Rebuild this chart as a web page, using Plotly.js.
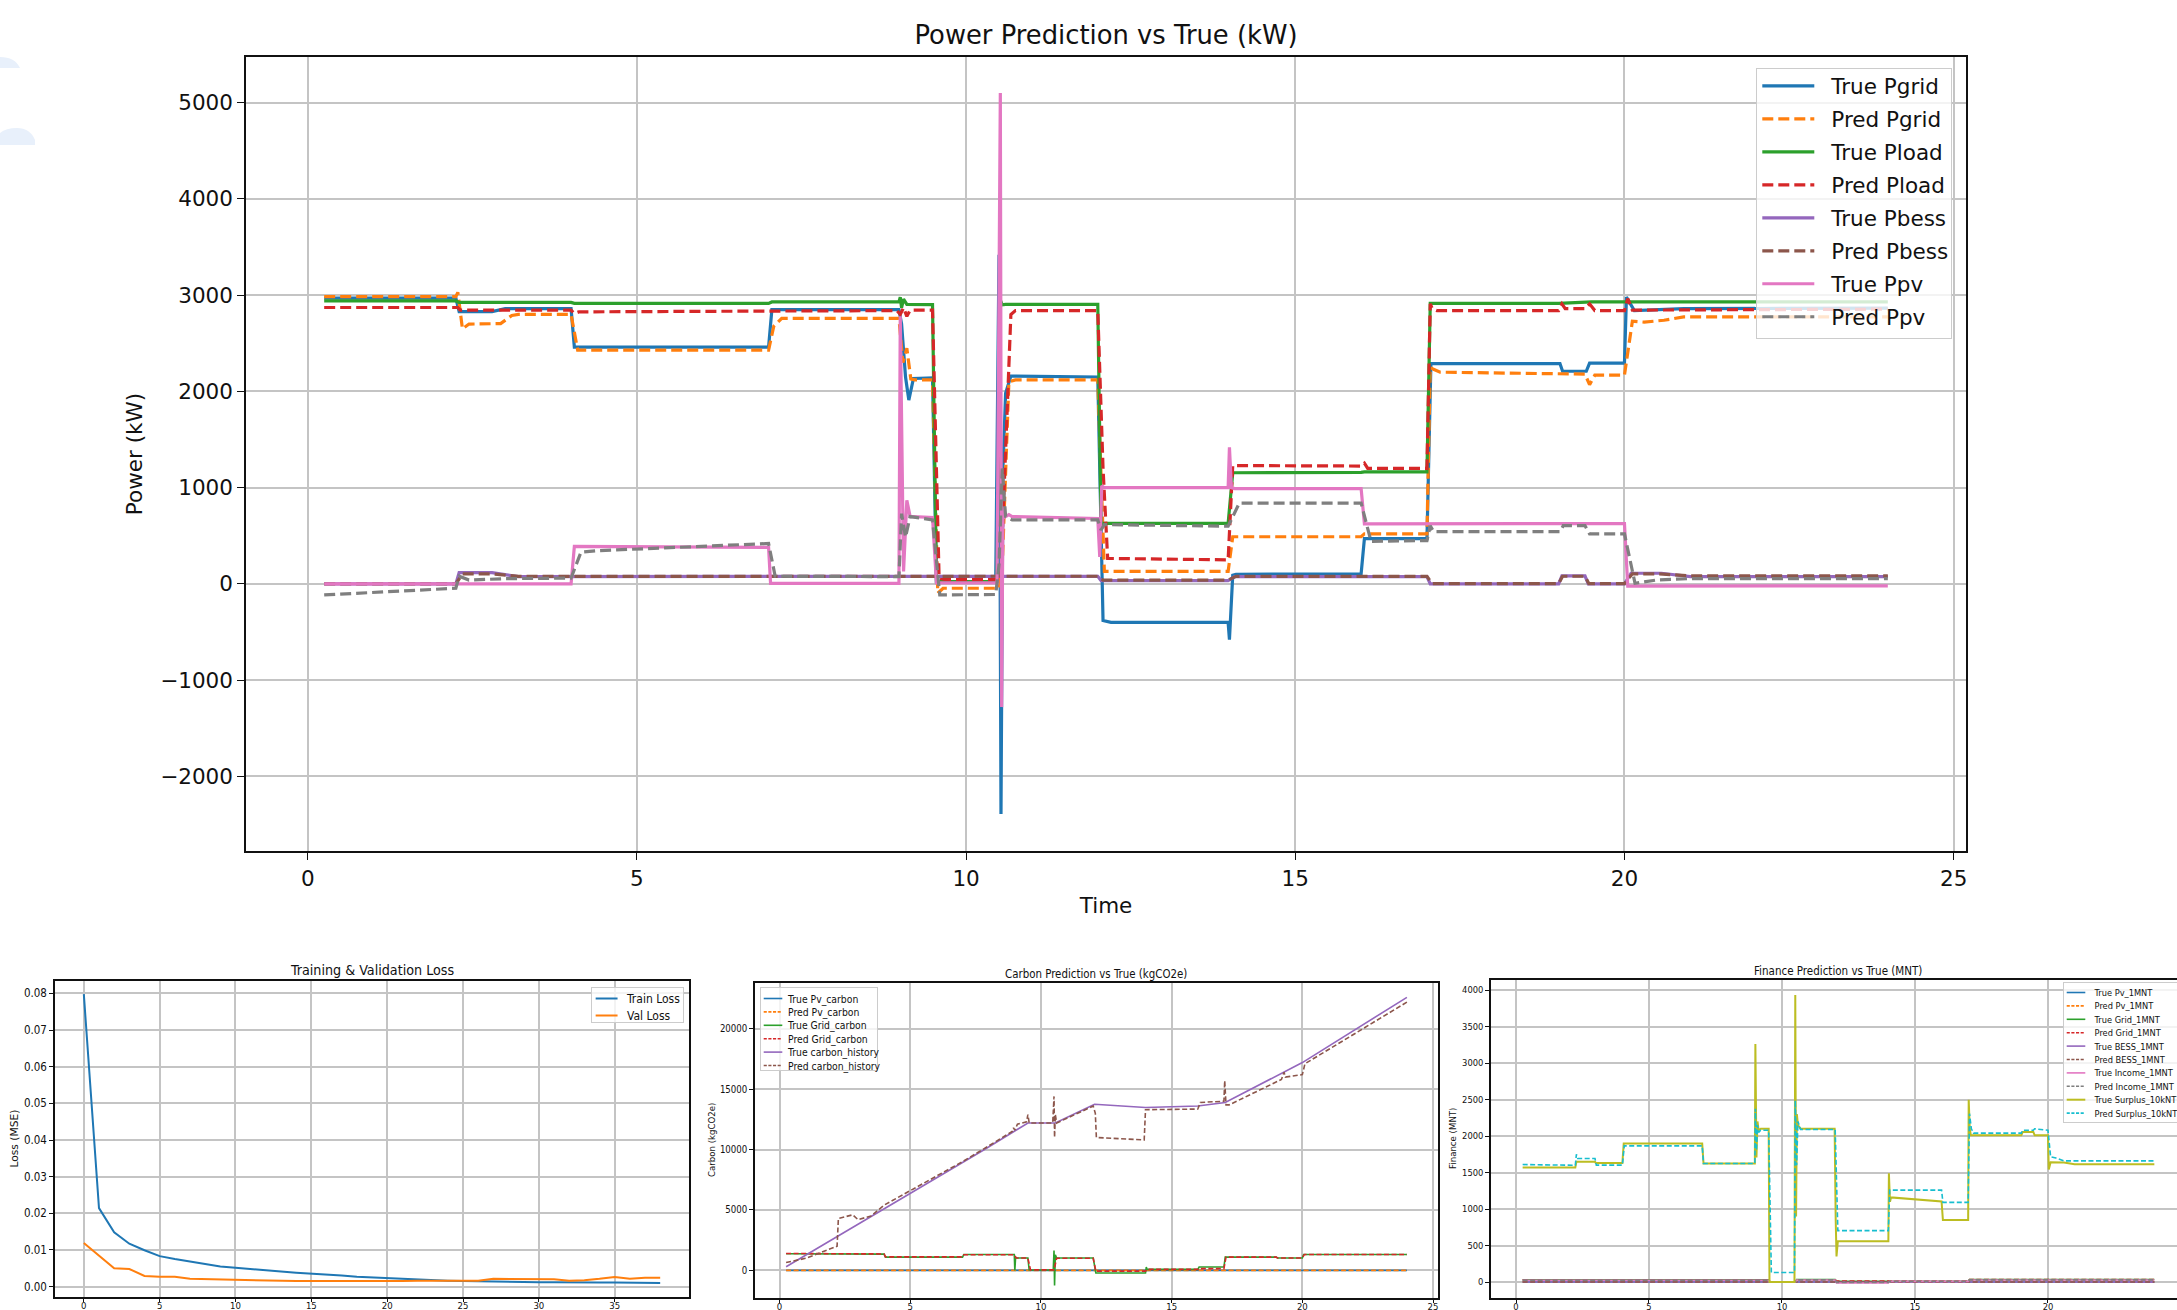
<!DOCTYPE html>
<html><head><meta charset="utf-8">
<script src="https://cdn.plot.ly/plotly-3.0.1.min.js"></script>
<style>html,body{margin:0;padding:0;overflow:hidden;background:#fff;}#chart{width:2200px;height:1340px;}</style>
</head><body><div id="chart"></div><script>
// ================= DATA =================
// --- Power Prediction vs True (kW) ---
const t_true_pgrid = [0.25,2.25,2.3,2.8,3.0,4.0,4.05,7.0,7.05,8.98,9.02,9.08,9.13,9.2,9.49,9.55,10.45,10.5,10.53,10.56,10.6,10.68,12.0,12.08,12.2,13.98,14.0,14.05,14.1,16.0,16.05,17.0,17.06,19.02,19.06,19.42,19.47,20.0,20.03,20.15,20.9,24.0];
const v_true_pgrid = [2970,2970,2830,2830,2860,2860,2460,2460,2850,2850,2700,2150,1910,2135,2140,20,20,3420,-2390,1200,1980,2160,2150,-380,-400,-400,-580,90,100,105,470,470,2290,2290,2210,2210,2295,2295,2980,2840,2860,2865];
const t_pred_pgrid = [0.25,2.25,2.28,2.35,2.45,2.93,3.1,3.2,4.0,4.1,7.0,7.08,7.2,8.98,9.04,9.1,9.16,9.22,9.49,9.57,9.65,10.5,10.55,10.65,10.75,12.0,12.1,13.98,14.05,16.0,16.05,17.0,17.05,17.1,17.2,19.0,19.4,19.47,19.55,20.0,20.12,20.3,20.6,20.9,24.0];
const v_pred_pgrid = [2985,2985,3030,2650,2700,2705,2790,2800,2800,2430,2430,2680,2760,2760,2300,2450,2130,2120,2120,-97,-45,-45,200,2100,2120,2120,130,130,490,490,520,520,2250,2230,2200,2185,2180,2070,2170,2170,2730,2720,2740,2775,2775];
const t_true_pload = [0.25,2.25,2.3,4.0,4.05,7.0,7.05,8.98,9.0,9.02,9.05,9.1,9.49,9.52,9.55,10.47,10.52,10.55,10.6,12.0,12.05,13.98,14.05,16.0,16.05,17.0,17.05,19.0,19.5,24.0];
const v_true_pload = [2940,2940,2925,2925,2915,2915,2930,2930,2980,2870,2960,2905,2903,1300,25,25,2950,2900,2905,2905,630,630,1155,1160,1165,1165,2915,2915,2930,2930];
const t_pred_pload = [0.25,2.28,2.32,4.0,4.05,4.12,7.0,8.95,9.0,9.05,9.1,9.15,9.49,9.59,9.7,10.5,10.55,10.68,10.75,12.0,12.08,12.15,13.98,14.05,16.0,16.05,16.1,17.0,17.05,17.08,17.15,19.0,19.05,19.1,19.4,19.47,19.55,20.0,20.05,20.12,24.0];
const v_pred_pload = [2872,2872,2845,2845,2810,2827,2835,2840,2800,2870,2780,2845,2845,60,45,45,500,2800,2840,2840,1200,265,250,1230,1225,1255,1200,1200,2910,2860,2840,2840,2910,2860,2860,2910,2840,2840,2965,2845,2855];
const t_true_pbess = [0.25,2.25,2.3,2.8,3.2,12.0,12.05,13.98,14.08,17.0,17.05,19.0,19.05,19.4,19.45,20.0,20.1,20.56,21.0,24.0];
const v_true_pbess = [0,0,118,118,76,80,35,35,76,76,0,0,83,83,0,0,111,111,76,76];
const t_pred_pbess = [0.25,2.25,2.35,2.8,3.2,12.0,12.08,13.98,14.1,17.0,17.08,19.0,19.06,19.4,19.46,20.0,20.12,20.5,21.0,24.0];
const v_pred_pbess = [0,0,105,105,78,80,40,40,78,78,3,3,80,80,3,3,105,105,83,83];
const t_true_ppv = [0.25,4.0,4.05,7.0,7.03,8.98,9.0,9.05,9.1,9.15,9.2,9.49,9.55,10.47,10.52,10.54,10.56,10.6,10.65,10.7,12.0,12.03,12.06,12.1,13.98,14.0,14.03,14.08,16.0,16.05,20.0,20.05,24.0];
const v_true_ppv = [0,0,390,380,5,5,2780,130,870,700,700,690,10,10,5100,-1280,800,700,720,700,680,280,1020,1000,1000,1420,1000,990,990,625,628,-22,-20];
const t_pred_ppv = [0.25,2.25,2.3,2.45,3.0,4.0,4.15,4.4,7.0,7.1,8.98,9.02,9.08,9.15,9.49,9.6,10.45,10.5,10.55,10.6,10.7,12.0,12.05,12.1,13.98,14.15,16.0,16.15,17.0,17.05,17.1,19.02,19.07,19.4,19.47,20.0,20.16,20.5,21.0,24.0];
const v_pred_ppv = [-114,-45,80,40,55,60,330,345,420,80,76,730,485,700,665,-114,-110,200,1200,700,665,665,560,616,600,840,840,443,450,605,543,543,605,605,520,520,7,42,55,55];

// --- Training & Validation Loss ---
const epochs = [0,1,2,3,4,5,6,7,8,9,10,11,12,13,14,15,16,17,18,19,20,21,22,23,24,25,26,27,28,29,30,31,32,33,34,35,36,37,38];
const train_loss = [0.0798,0.0214,0.0148,0.0117,0.0099,0.0083,0.0075,0.0068,0.0060,0.0055,0.0051,0.0047,0.0044,0.0041,0.0038,0.0036,0.0033,0.0030,0.0027,0.0025,0.0023,0.0020,0.0019,0.0017,0.0016,0.0015,0.0014,0.0013,0.0013,0.0012,0.0012,0.0012,0.0011,0.0011,0.0011,0.0011,0.0010,0.0010,0.0010];
const val_loss = [0.0119,0.0085,0.0050,0.0048,0.0029,0.0027,0.0027,0.0021,0.0020,0.0020,0.0017,0.0016,0.0016,0.0015,0.0015,0.0015,0.0015,0.0014,0.0013,0.0014,0.0013,0.0015,0.0016,0.0016,0.0014,0.0014,0.0016,0.0021,0.0021,0.0020,0.0019,0.0020,0.0016,0.0017,0.0021,0.0026,0.0021,0.0024,0.0024];

// --- Carbon Prediction vs True (kgCO2e) ---
const t_pv_carbon = [0.25,4.0,4.05,7.0,7.05,9.0,9.05,9.5,10.55,12.0,12.05,16.0,16.05,20.0,20.05,24.0];
const v_true_pv_carbon = [0,0,10,10,0,0,18,0,18,18,25,25,16,16,0,0];
const v_pred_pv_carbon = [5,5,12,12,4,4,16,3,16,16,22,22,15,15,3,3];
const t_true_grid_carbon = [0.25,2.0,2.05,4.0,4.05,7.0,7.05,8.98,9.0,9.03,9.06,9.5,9.55,10.47,10.5,10.52,10.55,10.6,12.0,12.1,14.0,14.03,14.06,16.0,16.05,17.0,17.05,19.0,19.05,20.0,20.05,24.0];
const v_true_grid_carbon = [1380,1380,1350,1350,1100,1100,1320,1320,0,1100,1020,1020,30,30,1650,-1240,1300,1020,1020,-220,-220,275,80,80,275,275,1100,1100,1020,1020,1320,1320];
const t_pred_grid_carbon = [0.25,2.0,2.05,4.0,4.05,7.0,7.05,8.98,9.05,9.5,9.6,10.5,10.6,12.0,12.1,14.0,14.05,16.0,16.05,17.0,17.08,19.0,19.05,20.0,20.08,24.0];
const v_pred_grid_carbon = [1400,1400,1360,1360,1120,1120,1290,1290,1020,1020,40,40,1000,1000,-60,-60,80,80,150,150,1100,1100,1030,1030,1320,1320];
const t_true_carbon_hist = [0.25,3.93,7.84,9.5,10.55,12.05,14.0,16.0,17.05,20.0,24.0];
const v_true_carbon_hist = [300,5000,10000,12200,12200,13750,13480,13600,13900,17200,22600];
const t_pred_carbon_hist = [0.25,1.0,2.2,2.25,2.8,3.0,3.5,4.0,5.0,7.0,8.0,8.9,8.95,9.0,9.1,9.45,9.5,9.55,10.45,10.5,10.52,10.55,10.6,12.0,12.08,12.12,13.95,14.0,16.0,16.1,17.0,17.03,17.08,17.2,19.2,19.3,19.35,20.0,20.1,24.0];
const v_pred_carbon_hist = [650,1000,2000,4300,4600,4200,4500,5400,6600,9000,10300,11500,11800,11600,12100,12300,12900,12200,12200,14400,11000,12900,12200,13600,13000,11000,10800,13300,13350,13900,14000,15700,13700,13700,15800,16400,16000,16200,17100,22200];

// --- Finance Prediction vs True (MNT) ---
const t_fin_small = [0.25,9.5,9.55,10.5,10.55,12.0,12.05,14.0,14.05,17.0,17.05,24.0];
const v_true_pv_mnt = [2,2,0,0,6,6,8,8,6,6,2,2];
const v_pred_pv_mnt = [5,5,2,2,9,9,11,11,9,9,5,5];
const v_true_grid_mnt = [30,30,0,0,35,35,12,12,12,12,35,35];
const v_pred_grid_mnt = [32,32,2,2,33,33,14,14,14,14,34,34];
const v_true_bess_mnt = [1,1,1,1,1,1,0,0,1,1,0,0];
const v_pred_bess_mnt = [2,2,2,2,2,2,1,1,2,2,1,1];
const v_true_income_mnt = [25,25,0,0,28,28,-12,-12,10,10,28,28];
const v_pred_income_mnt = [27,27,3,3,30,30,-5,-5,12,12,30,30];
const t_true_surplus = [0.25,2.23,2.27,2.97,3.0,4.0,4.05,7.0,7.05,8.98,9.0,9.04,9.08,9.12,9.2,9.5,9.53,10.47,10.5,10.53,10.56,10.6,10.7,11.98,12.02,12.05,12.1,14.0,14.02,14.06,14.1,16.0,16.05,17.0,17.02,17.06,17.1,19.0,19.05,19.45,19.5,20.0,20.03,20.1,20.6,21.0,24.0];
const v_true_surplus = [1570,1570,1647,1647,1630,1630,1897,1897,1624,1624,3262,1706,2200,2080,2100,2100,0,0,3931,900,2300,2150,2100,2100,850,350,560,560,1490,1100,1160,1105,851,851,2498,2100,2011,2011,2057,2057,2011,2011,1542,1640,1638,1615,1615];
const t_pred_surplus = [0.25,2.23,2.27,2.32,2.97,3.02,4.0,4.07,7.0,7.05,8.98,9.0,9.04,9.08,9.12,9.2,9.5,9.6,10.47,10.5,10.55,10.6,10.7,12.0,12.1,14.0,14.05,16.0,16.05,17.0,17.05,17.12,17.2,19.0,19.05,19.45,19.5,20.0,20.1,20.3,20.6,24.0];
const v_pred_surplus = [1610,1600,1750,1693,1693,1602,1602,1866,1866,1624,1624,2375,1800,2150,2050,2080,2080,132,132,2490,1600,2200,2090,2090,705,705,1260,1260,1092,1092,2307,2100,2040,2040,2080,2080,2100,2080,1715,1700,1661,1660];
const fin_x_ticks = [0,5,10,15,20];

// ================= STYLE / LAYOUT =================
const W = 2200, H = 1340;
const C = ['#1f77b4','#ff7f0e','#2ca02c','#d62728','#9467bd','#8c564b','#e377c2','#7f7f7f','#bcbd22','#17becf'];
const FONT = '"DejaVu Sans", sans-serif';
function tw(f, s){ const c = document.createElement('canvas').getContext('2d'); c.font = f; return c.measureText(s).width; }
const hasCond = Math.abs(tw('20px "DejaVu Sans Condensed", monospace','Training Loss 0123') - tw('20px monospace','Training Loss 0123')) > 0.5;
const COND = hasCond ? '"DejaVu Sans Condensed", "DejaVu Sans", sans-serif' : FONT;
const CS = hasCond ? 1 : 0.9;
const X = px => px / W, Y = py => 1 - py / H;

const MAIN_DASH = '11px,5px', SMALL_DASH = '5px,2.5px';
function tr(x, y, name, color, dash, width, n, leg){
  return {type:'scatter', mode:'lines', x:x, y:y, name:name, xaxis:'x'+(n>1?n:''), yaxis:'y'+(n>1?n:''),
    legend: leg, line:{color:color, width:width, dash:dash||'solid'}, hoverinfo:'skip'};
}
const LM = 3.2;
const traces = [
  tr(t_true_pgrid, v_true_pgrid, 'True Pgrid', C[0], 'solid', LM, 1, 'legend'),
  tr(t_pred_pgrid, v_pred_pgrid, 'Pred Pgrid', C[1], MAIN_DASH, LM, 1, 'legend'),
  tr(t_true_pload, v_true_pload, 'True Pload', C[2], 'solid', LM, 1, 'legend'),
  tr(t_pred_pload, v_pred_pload, 'Pred Pload', C[3], MAIN_DASH, LM, 1, 'legend'),
  tr(t_true_pbess, v_true_pbess, 'True Pbess', C[4], 'solid', LM, 1, 'legend'),
  tr(t_pred_pbess, v_pred_pbess, 'Pred Pbess', C[5], MAIN_DASH, LM, 1, 'legend'),
  tr(t_true_ppv, v_true_ppv, 'True Ppv', C[6], 'solid', LM, 1, 'legend'),
  tr(t_pred_ppv, v_pred_ppv, 'Pred Ppv', C[7], MAIN_DASH, LM, 1, 'legend'),

  tr(epochs, train_loss, 'Train Loss', C[0], 'solid', 2, 2, 'legend2'),
  tr(epochs, val_loss, 'Val Loss', C[1], 'solid', 2, 2, 'legend2'),

  tr(t_pv_carbon, v_true_pv_carbon, 'True Pv_carbon', C[0], 'solid', 1.6, 3, 'legend3'),
  tr(t_pv_carbon, v_pred_pv_carbon, 'Pred Pv_carbon', C[1], SMALL_DASH, 1.6, 3, 'legend3'),
  tr(t_true_grid_carbon, v_true_grid_carbon, 'True Grid_carbon', C[2], 'solid', 1.6, 3, 'legend3'),
  tr(t_pred_grid_carbon, v_pred_grid_carbon, 'Pred Grid_carbon', C[3], SMALL_DASH, 1.6, 3, 'legend3'),
  tr(t_true_carbon_hist, v_true_carbon_hist, 'True carbon_history', C[4], 'solid', 1.6, 3, 'legend3'),
  tr(t_pred_carbon_hist, v_pred_carbon_hist, 'Pred carbon_history', C[5], SMALL_DASH, 1.6, 3, 'legend3'),

  tr(t_fin_small, v_true_pv_mnt, 'True Pv_1MNT', C[0], 'solid', 1.6, 4, 'legend4'),
  tr(t_fin_small, v_pred_pv_mnt, 'Pred Pv_1MNT', C[1], SMALL_DASH, 1.6, 4, 'legend4'),
  tr(t_fin_small, v_true_grid_mnt, 'True Grid_1MNT', C[2], 'solid', 1.6, 4, 'legend4'),
  tr(t_fin_small, v_pred_grid_mnt, 'Pred Grid_1MNT', C[3], SMALL_DASH, 1.6, 4, 'legend4'),
  tr(t_fin_small, v_true_bess_mnt, 'True BESS_1MNT', C[4], 'solid', 1.6, 4, 'legend4'),
  tr(t_fin_small, v_pred_bess_mnt, 'Pred BESS_1MNT', C[5], SMALL_DASH, 1.6, 4, 'legend4'),
  tr(t_fin_small, v_true_income_mnt, 'True Income_1MNT', C[6], 'solid', 1.6, 4, 'legend4'),
  tr(t_fin_small, v_pred_income_mnt, 'Pred Income_1MNT', C[7], SMALL_DASH, 1.6, 4, 'legend4'),
  tr(t_true_surplus, v_true_surplus, 'True Surplus_10kNT', C[8], 'solid', 2, 4, 'legend4'),
  tr(t_pred_surplus, v_pred_surplus, 'Pred Surplus_10kNT', C[9], SMALL_DASH, 1.6, 4, 'legend4')
];

function axis(d0, d1, range, dtick, fsize, ffam, anchor, extra){
  return Object.assign({domain:[d0,d1], range:range, dtick:dtick, tick0:0, anchor:anchor, autorange:false,
    showgrid:true, gridcolor:'#c4c4c4', gridwidth:1.6, zeroline:false,
    showline:true, linecolor:'#111', linewidth:1.5, mirror:true,
    ticks:'outside', ticklen:6, tickwidth:1.4, tickcolor:'#111',
    tickfont:{family:ffam, size:fsize, color:'#111'}, exponentformat:'none', separatethousands:false, automargin:false}, extra||{});
}
const mainL = 246, mainR = 1966, mainT = 57, mainB = 851;
const lossL = 55, lossR = 689, lossT = 981, lossB = 1297;
const carL = 755, carR = 1438, carT = 983, carB = 1298;
const finL = 1491, finR = 2186, finT = 980, finB = 1298;
// bottom-row x tick labels sit tight under the axis so they stay inside the picture
const BX = {ticklen:3, ticklabelstandoff:-4};

const layout = {
  width: W, height: H, margin:{l:0,r:0,t:0,b:0, autoexpand:false}, paper_bgcolor:'#fff', plot_bgcolor:'#fff', showlegend:true,
  font:{family:FONT, color:'#111'},
  title:{text:'Power Prediction vs True (kW)', font:{family:FONT, size:25.8, color:'#111'}, x:X(1106), xanchor:'center', y:Y(35), yanchor:'middle', xref:'paper', yref:'paper'},
  xaxis: axis(X(mainL), X(mainR), [-0.9375, 25.1875], 5, 21.5, FONT, 'y', {ticklen:7, title:{text:'Time', font:{family:FONT, size:21.5}, standoff:8}}),
  yaxis: axis(Y(mainB), Y(mainT), [-2775, 5475], 1000, 21.5, FONT, 'x', {ticklen:7, tickformat:'d', title:{text:'Power (kW)', font:{family:FONT, size:21.5}, standoff:12}}),
  xaxis2: axis(X(lossL), X(lossR), [-1.9, 39.9], 5, 9.5*CS, COND, 'y2', BX),
  yaxis2: axis(Y(lossB), Y(lossT), [-0.00285, 0.0834], 0.01, 11.5*CS, COND, 'x2', {ticklen:4, tickformat:'.2f'}),
  xaxis3: axis(X(carL), X(carR), [-0.94, 25.19], 5, 9.5*CS, COND, 'y3', BX),
  yaxis3: axis(Y(carB), Y(carT), [-2285, 23785], 5000, 9.6*CS, COND, 'x3', {ticklen:4, tickformat:'d'}),
  xaxis4: axis(X(finL), X(finR), [-0.94, 25.19], 5, 9.3*CS, COND, 'y4', Object.assign({tickmode:'array', tickvals:fin_x_ticks}, BX)),
  yaxis4: axis(Y(finB), Y(finT), [-218, 4138], 500, 9.3*CS, COND, 'x4', {ticklen:4, tickformat:'d'}),
  legend:{x:X(1756), y:Y(68), xanchor:'left', yanchor:'top', bgcolor:'rgba(255,255,255,0.8)', bordercolor:'#cccccc', borderwidth:1.3,
    font:{family:FONT, size:21.5, color:'#111'}, itemwidth:52, traceorder:'normal'},
  legend2:{x:X(591), y:Y(987), xanchor:'left', yanchor:'top', bgcolor:'rgba(255,255,255,0.8)', bordercolor:'#cccccc', borderwidth:1,
    font:{family:COND, size:12*CS, color:'#111'}, itemwidth:30, traceorder:'normal'},
  legend3:{x:X(759.6), y:Y(987), xanchor:'left', yanchor:'top', bgcolor:'rgba(255,255,255,0.8)', bordercolor:'#cccccc', borderwidth:1,
    font:{family:COND, size:10.3*CS, color:'#111'}, itemwidth:30, traceorder:'normal'},
  legend4:{x:X(2062.6), y:Y(982), xanchor:'left', yanchor:'top', bgcolor:'rgba(255,255,255,0.8)', bordercolor:'#cccccc', borderwidth:1,
    font:{family:COND, size:9.2*CS, color:'#111'}, itemwidth:30, traceorder:'normal'},
  annotations:[
    {text:'Training & Validation Loss', x:X(372), y:Y(970), xref:'paper', yref:'paper', showarrow:false, xanchor:'center', yanchor:'middle', font:{family:COND, size:14.2*CS, color:'#111'}},
    {text:'Carbon Prediction vs True (kgCO2e)', x:X(1096), y:Y(974), xref:'paper', yref:'paper', showarrow:false, xanchor:'center', yanchor:'middle', font:{family:COND, size:11.4*CS, color:'#111'}},
    {text:'Finance Prediction vs True (MNT)', x:X(1838), y:Y(971), xref:'paper', yref:'paper', showarrow:false, xanchor:'center', yanchor:'middle', font:{family:COND, size:11.5*CS, color:'#111'}},
    {text:'Loss (MSE)', x:X(13.5), y:Y(1139), xref:'paper', yref:'paper', showarrow:false, textangle:-90, xanchor:'center', yanchor:'middle', font:{family:FONT, size:10.7, color:'#111'}},
    {text:'Carbon (kgCO2e)', x:X(712), y:Y(1140), xref:'paper', yref:'paper', showarrow:false, textangle:-90, xanchor:'center', yanchor:'middle', font:{family:FONT, size:8.6, color:'#111'}},
    {text:'Finance (MNT)', x:X(1453), y:Y(1139), xref:'paper', yref:'paper', showarrow:false, textangle:-90, xanchor:'center', yanchor:'middle', font:{family:FONT, size:8.6, color:'#111'}}
  ],
  shapes:[
    {type:'path', xref:'paper', yref:'paper', layer:'below', line:{width:0}, fillcolor:'#e8f0fb',
      path:'M'+X(0)+','+Y(68)+' L'+X(0)+','+Y(57)+' Q'+X(15)+','+Y(57)+' '+X(20)+','+Y(68)+' Z'},
    {type:'path', xref:'paper', yref:'paper', layer:'below', line:{width:0}, fillcolor:'#e8f0fb',
      path:'M'+X(0)+','+Y(145)+' L'+X(0)+','+Y(133)+' Q'+X(6)+','+Y(128)+' '+X(17)+','+Y(128)+' Q'+X(30)+','+Y(128)+' '+X(35)+','+Y(140)+' L'+X(35)+','+Y(145)+' Z'}
  ]
};

// Legend row spacing / box sizes / symbol lengths (matching the reference's compact legends).
// Idempotent: original positions are remembered, so it can safely run more than once.
const LEG_SPEC = {
  legend:  {sp:33,   shift:-4, h:270, dx:12,    w:195, sym:1},
  legend2: {sp:17,   shift:-4, h:35,  dx:-5,    w:92,  sym:0.73},
  legend3: {sp:13.4, shift:-4, h:83,  dx:-12.5, w:117, sym:0.62},
  legend4: {sp:13.4, shift:-5, h:140, dx:-9,    w:150, sym:0.62}
};
function tighten(gd){
  gd.querySelectorAll('g.legend, g.legend2, g.legend3, g.legend4').forEach(function(g){
    const cls = (g.getAttribute('class')||'').split(/\s+/);
    const key = ['legend4','legend3','legend2','legend'].find(k => cls.indexOf(k) >= 0);
    if(!key) return;
    const s = LEG_SPEC[key];
    const items = Array.from(g.querySelectorAll('g.traces'));
    if(items.length < 1) return;
    const parse = el => { const m = /translate\(\s*([-\d.e]+)[ ,]+([-\d.e]+)\s*\)/.exec(el.getAttribute('transform')||''); return m ? [parseFloat(m[1]), parseFloat(m[2])] : [0,0]; };
    items.forEach(function(el){
      if(el.dataset.ox === undefined){ const p = parse(el); el.dataset.ox = p[0]; el.dataset.oy = p[1]; }
    });
    const y0 = parseFloat(items[0].dataset.oy);
    items.forEach(function(el, i){
      const ox = parseFloat(el.dataset.ox);
      el.setAttribute('transform', 'translate(' + (ox + s.dx) + ',' + (y0 + s.shift + i*s.sp) + ')');
      el.querySelectorAll('g.layers').forEach(function(l){
        if(l.dataset.ot === undefined) l.dataset.ot = l.getAttribute('transform') || '';
        l.setAttribute('transform', l.dataset.ot + ' translate(' + (-s.dx) + ',0) scale(' + s.sym + ',1)');
      });
    });
    const bg = g.querySelector('rect.bg');
    if(bg){ bg.setAttribute('height', s.h); bg.setAttribute('width', s.w); }
    g.querySelectorAll('[clip-path]').forEach(e => e.removeAttribute('clip-path'));
  });
}

Plotly.newPlot('chart', traces, layout, {displayModeBar:false, responsive:false}).then(function(gd){
  try { tighten(gd); } catch(e) { console.log(e); }
  setTimeout(function(){ try { tighten(gd); } catch(e) {} }, 200);
  setTimeout(function(){ try { tighten(gd); } catch(e) {} }, 800);
});
</script></body></html>
